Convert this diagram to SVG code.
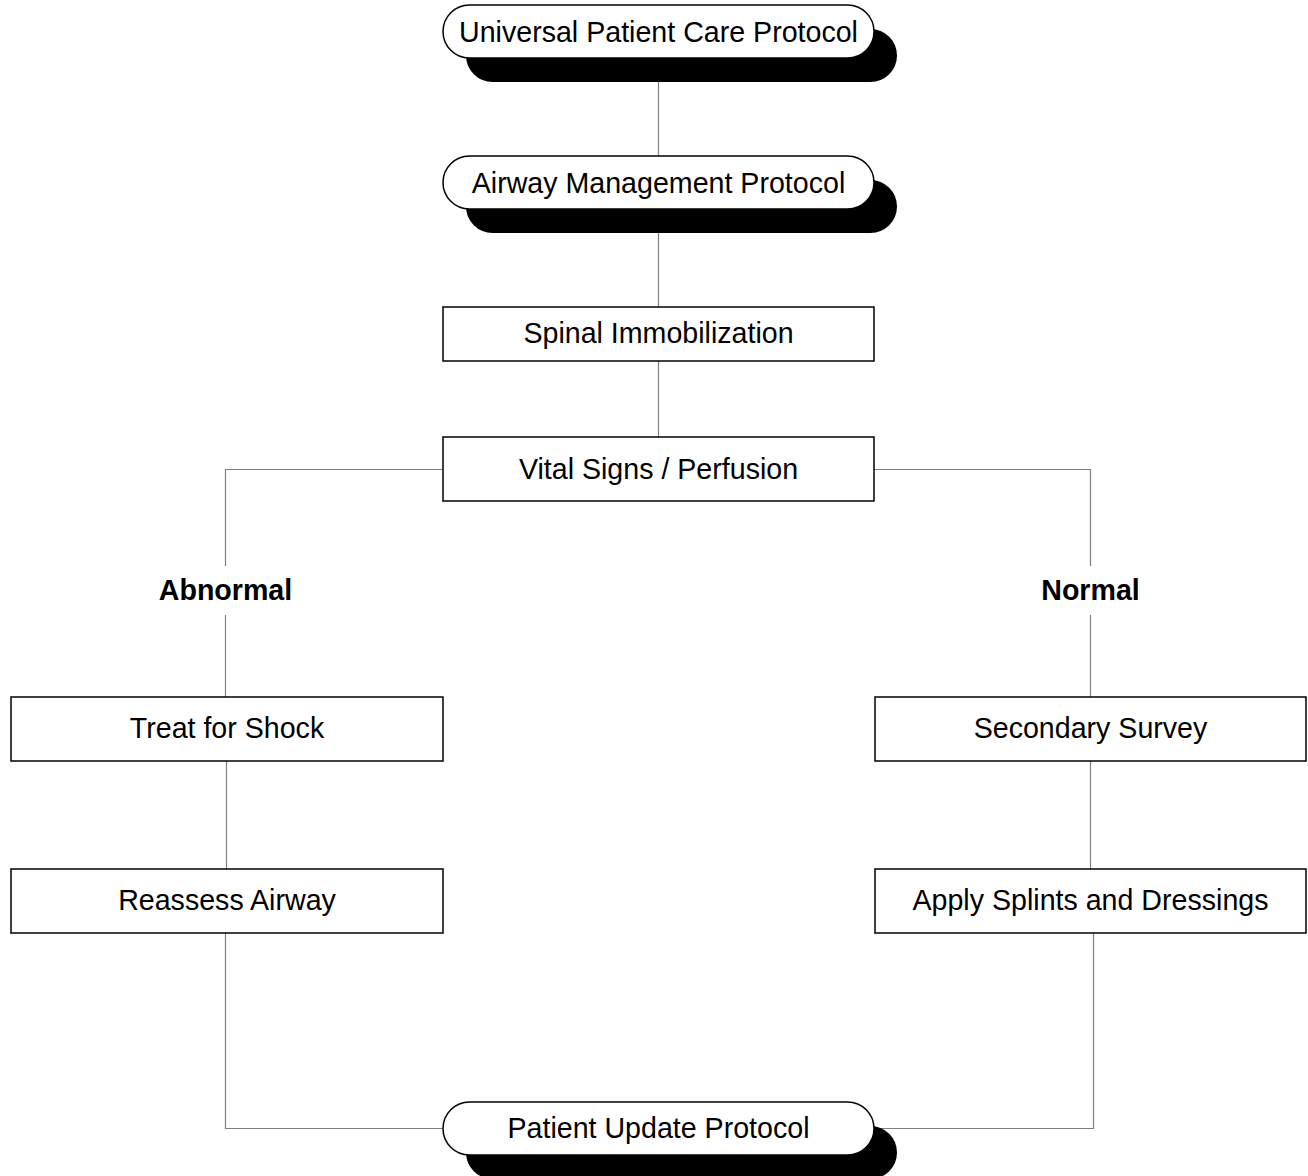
<svg xmlns="http://www.w3.org/2000/svg" width="1308" height="1176" viewBox="0 0 1308 1176">
  <style>
    .wire { fill: none; stroke: #808080; stroke-width: 1.2; }
    .box { fill: #ffffff; stroke: #000000; stroke-width: 1.5; }
    .pill { fill: #ffffff; stroke: #000000; stroke-width: 1.5; }
    .shadow { fill: #000000; stroke: none; }
    .lbl { font-family: "Liberation Sans", Arial, sans-serif; font-size: 28.6px; fill: #000000; text-anchor: middle; dominant-baseline: central; }
    .cond { font-family: "Liberation Sans", Arial, sans-serif; font-size: 28.6px; font-weight: bold; fill: #000000; text-anchor: middle; dominant-baseline: central; }
  </style>
  <rect width="1308" height="1176" fill="#ffffff"/>

  <g id="connectors">
    <line class="wire" x1="658.5" y1="58" x2="658.5" y2="157"/>
    <line class="wire" x1="658.5" y1="209" x2="658.5" y2="307"/>
    <line class="wire" x1="658.5" y1="361" x2="658.5" y2="437"/>
    <polyline class="wire" points="443,469.5 225.5,469.5 225.5,566"/>
    <line class="wire" x1="225.5" y1="615" x2="225.5" y2="697"/>
    <polyline class="wire" points="874,469.5 1090.5,469.5 1090.5,566"/>
    <line class="wire" x1="1090.5" y1="615" x2="1090.5" y2="697"/>
    <line class="wire" x1="226.5" y1="761" x2="226.5" y2="869"/>
    <line class="wire" x1="1090.5" y1="761" x2="1090.5" y2="869"/>
    <polyline class="wire" points="225.5,933 225.5,1128.5 443,1128.5"/>
    <polyline class="wire" points="1093.5,933 1093.5,1128.5 874,1128.5"/>
  </g>

  <g id="universal-patient-care">
    <rect class="shadow" x="466" y="29" width="431" height="53" rx="26.5"/>
    <rect class="pill" x="443" y="5" width="431" height="53" rx="26.5"/>
    <text class="lbl" x="658.5" y="32">Universal Patient Care Protocol</text>
  </g>

  <g id="airway-management">
    <rect class="shadow" x="466" y="180" width="431" height="53" rx="26.5"/>
    <rect class="pill" x="443" y="156" width="431" height="53" rx="26.5"/>
    <text class="lbl" x="658.5" y="183">Airway Management Protocol</text>
  </g>

  <g id="spinal-immobilization">
    <rect class="box" x="443" y="307" width="431" height="54"/>
    <text class="lbl" x="658.5" y="333">Spinal Immobilization</text>
  </g>

  <g id="vital-signs">
    <rect class="box" x="443" y="437" width="431" height="64"/>
    <text class="lbl" x="658.5" y="469">Vital Signs / Perfusion</text>
  </g>

  <g id="label-abnormal">
    <text class="cond" x="225.5" y="590">Abnormal</text>
  </g>

  <g id="label-normal">
    <text class="cond" x="1090.5" y="590">Normal</text>
  </g>

  <g id="treat-for-shock">
    <rect class="box" x="11" y="697" width="432" height="64"/>
    <text class="lbl" x="227" y="728">Treat for Shock</text>
  </g>

  <g id="secondary-survey">
    <rect class="box" x="875" y="697" width="431" height="64"/>
    <text class="lbl" x="1090.5" y="728">Secondary Survey</text>
  </g>

  <g id="reassess-airway">
    <rect class="box" x="11" y="869" width="432" height="64"/>
    <text class="lbl" x="227" y="900">Reassess Airway</text>
  </g>

  <g id="apply-splints">
    <rect class="box" x="875" y="869" width="431" height="64"/>
    <text class="lbl" x="1090.5" y="900">Apply Splints and Dressings</text>
  </g>

  <g id="patient-update">
    <rect class="shadow" x="466" y="1126" width="431" height="53" rx="26.5"/>
    <rect class="pill" x="443" y="1102" width="431" height="53" rx="26.5"/>
    <text class="lbl" x="658.5" y="1128">Patient Update Protocol</text>
  </g>
</svg>
